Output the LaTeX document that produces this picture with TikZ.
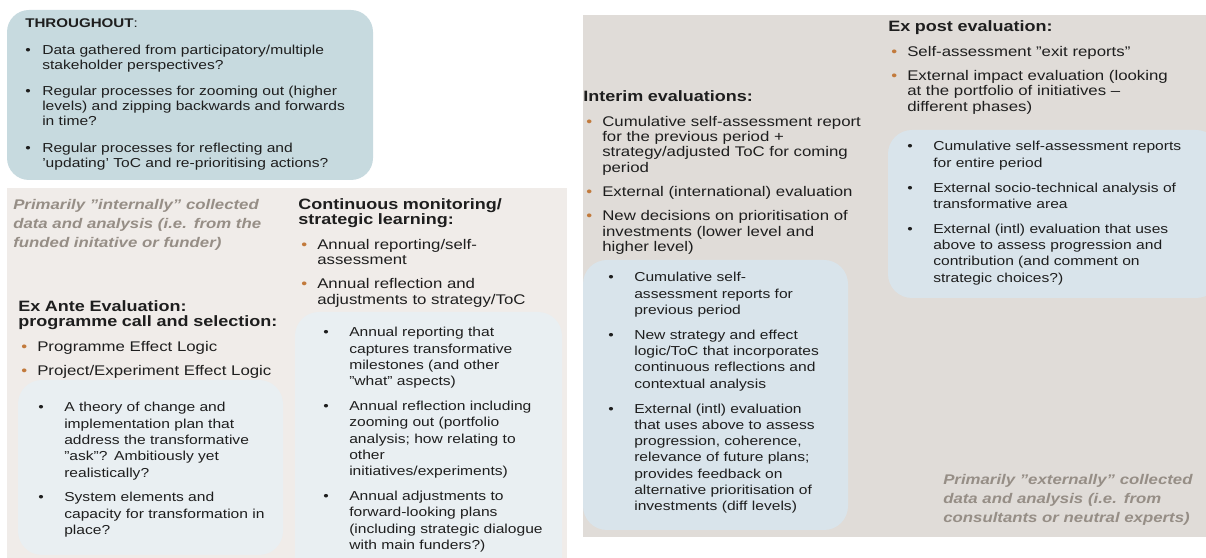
\documentclass[tikz,border=0pt]{standalone}
\usepackage{fontspec}
\setmainfont[FakeStretch=1.2]{Liberation Sans}
\usepackage{xcolor}
\usepackage{tikz}
\usetikzlibrary{positioning}
\definecolor{ink}{HTML}{1E1E1E}
\definecolor{paleblue}{HTML}{C7DADF}
\definecolor{warmin}{HTML}{F0ECE9}
\definecolor{warmex}{HTML}{E0DCD8}
\definecolor{softin}{HTML}{E9EFF2}
\definecolor{softex}{HTML}{D9E4EB}
\definecolor{dotorange}{HTML}{C27A3C}
\definecolor{notegrey}{HTML}{968E86}
\setlength{\parindent}{0pt}

% one drawing unit: 0.25mm
\newlength{\px}\setlength{\px}{0.25mm}
\newcommand{\headfont}{\fontsize{15\px}{15\px}\selectfont\bfseries}
\newcommand{\itemfont}{\fontsize{14\px}{15.3\px}\selectfont\mdseries}
% bullets: orange (phase lists), black (detail lists, throughout box)
\newcommand{\obul}[1]{\hangindent=19\px\hangafter=1\noindent\makebox[19\px][l]{\hspace{3\px}\textcolor{dotorange}{•}}#1\par}
\newcommand{\ibul}[1]{\hangindent=26\px\hangafter=1\noindent\makebox[26\px][l]{•}#1\par}
\newcommand{\tbul}[1]{\hangindent=17\px\hangafter=1\noindent\makebox[17\px][l]{•}#1\par}

\begin{document}
\begin{tikzpicture}[x=0.25mm, y=-0.25mm,
  txt/.style={anchor=base west, inner sep=0pt, text=ink, align=left},
  phase/.style={txt, text width=300\px, font={\itemfont\setlength{\parskip}{9\px}}},
  detail/.style={txt, text width=280\px, font={\fontsize{13\px}{16.3\px}\selectfont\setlength{\parskip}{8.5\px}}},
  note/.style={txt, text width=300\px, text=notegrey, font={\fontsize{14\px}{19\px}\selectfont\bfseries\itshape}}]
  \useasboundingbox (0,0) rectangle (1206,558);
  % panels
  \fill[paleblue, rounded corners=5.5mm] (7,10) rectangle (373,180);
  \fill[warmin] (7,188) rectangle (567,558);
  \fill[warmex] (583,15) rectangle (1206,537);
  % detail boxes
  \fill[softin, rounded corners=6mm] (18,380) rectangle (283,555);
  \fill[softin, rounded corners=6mm] (295,312) rectangle (562,580);
  \fill[softex, rounded corners=6mm] (583,260) rectangle (848,530);
  \fill[softex, rounded corners=6mm] (888,130) rectangle (1220,298);

  % throughout
  \node[txt, text width=360\px, font={\fontsize{13\px}{15\px}\selectfont\setlength{\parskip}{11.5\px}}] (thru) at (25,28)
    {{\fontsize{12.6\px}{15\px}\selectfont\textbf{THROUGHOUT}:}\par
     \tbul{Data gathered from participatory/multiple\newline stakeholder perspectives?}
     \tbul{Regular processes for zooming out (higher\newline levels) and zipping backwards and forwards\newline in time?}
     \tbul{Regular processes for reflecting and\newline ’updating’ ToC and re-prioritising actions?}};

  % internally collected side
  \node[note] (intnote) at (13,210)
    {Primarily ”internally” collected\newline data and analysis (i.e. from the\newline funded initative or funder)};
  \node[phase] (ante) at (18,312)
    {\headfont Ex Ante Evaluation:\newline programme call and selection:\par\itemfont
     \obul{Programme Effect Logic}
     \obul{Project/Experiment Effect Logic}};
  \node[detail] (antedet) at (38,412)
    {\ibul{A theory of change and\newline implementation plan that\newline address the transformative\newline "ask"? Ambitiously yet\newline realistically?}
     \ibul{System elements and\newline capacity for transformation in\newline place?}};
  \node[phase] (cont) at (298,210)
    {\headfont Continuous monitoring/\newline strategic learning:\par\itemfont
     \obul{Annual reporting/self-\newline assessment}
     \obul{Annual reflection and\newline adjustments to strategy/ToC}};
  \node[detail] (contdet) at (323,337)
    {\ibul{Annual reporting that\newline captures transformative\newline milestones (and other\newline ”what” aspects)}
     \ibul{Annual reflection including\newline zooming out (portfolio\newline analysis; how relating to\newline other\newline initiatives/experiments)}
     \ibul{Annual adjustments to\newline forward-looking plans\newline (including strategic dialogue\newline with main funders?)}};

  % externally collected side
  \node[phase] (interim) at (583,102)
    {\headfont Interim evaluations:\par\itemfont
     \obul{Cumulative self-assessment report\newline for the previous period +\newline strategy/adjusted ToC for coming\newline period}
     \obul{External (international) evaluation}
     \obul{New decisions on prioritisation of\newline investments (lower level and\newline higher level)}};
  \node[detail] (interimdet) at (608,282)
    {\ibul{Cumulative self-\newline assessment reports for\newline previous period}
     \ibul{New strategy and effect\newline logic/ToC that incorporates\newline continuous reflections and\newline contextual analysis}
     \ibul{External (intl) evaluation\newline that uses above to assess\newline progression, coherence,\newline relevance of future plans;\newline provides feedback on\newline alternative prioritisation of\newline investments (diff levels)}};
  \node[phase] (expost) at (888,32)
    {\headfont Ex post evaluation:\par\itemfont
     \obul{Self-assessment ”exit reports”}
     \obul{External impact evaluation (looking\newline at the portfolio of initiatives –\newline different phases)}};
  \node[detail, text width=300\px] (expostdet) at (907,151)
    {\ibul{Cumulative self-assessment reports\newline for entire period}
     \ibul{External socio-technical analysis of\newline transformative area}
     \ibul{External (intl) evaluation that uses\newline above to assess progression and\newline contribution (and comment on\newline strategic choices?)}};
  \node[note] (extnote) at (943,485)
    {Primarily ”externally” collected\newline data and analysis (i.e. from\newline consultants or neutral experts)};
\end{tikzpicture}
\end{document}
